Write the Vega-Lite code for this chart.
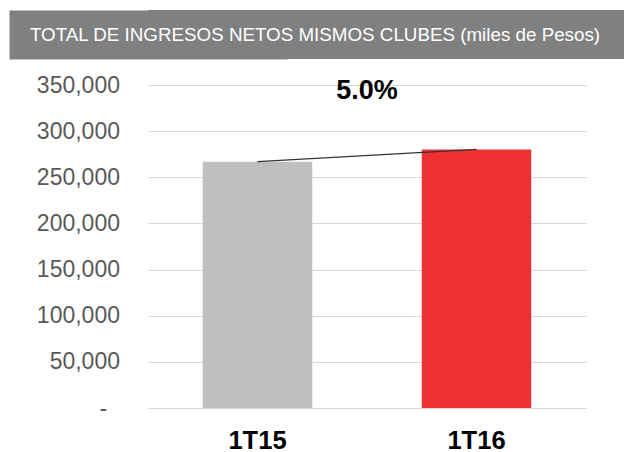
{
  "$schema": "https://vega.github.io/schema/vega-lite/v6.json",
  "padding": {"left": 9, "top": 10, "right": 0, "bottom": 0},
  "spacing": 15,
  "config": {"view": {"stroke": null}, "font": "Liberation Sans"},
  "vconcat": [
    {
      "width": 476,
      "height": 49,
      "view": {"fill": "#808080", "stroke": null},
      "data": {"values": [{"titulo": "TOTAL DE INGRESOS NETOS MISMOS CLUBES (miles de Pesos)"}]},
      "mark": {"type": "text", "color": "#FFFFFF", "fontSize": 18.8, "font": "Liberation Sans", "baseline": "middle", "align": "center", "dx": -71},
      "encoding": {
        "text": {"field": "titulo"},
        "y": {"datum": 0, "type": "quantitative",
          "scale": {"domain": [-1, 1]},
          "axis": {"title": null, "labels": false, "ticks": false, "grid": false,
            "domain": true, "domainColor": "#808080", "domainWidth": 278, "domainCap": "butt",
            "minExtent": 139, "maxExtent": 139}}
      }
    },
    {
      "width": 438,
      "height": 323,
      "data": {"values": [
        {"periodo": "1T15", "ingresos": 266900},
        {"periodo": "1T16", "ingresos": 280200}
      ]},
      "layer": [
        {
          "mark": {"type": "bar"},
          "encoding": {
            "x": {"field": "periodo", "type": "nominal", "sort": ["1T15", "1T16"],
              "scale": {"paddingInner": 0.5, "paddingOuter": 0.25},
              "axis": {"title": null, "domain": false, "ticks": false, "labelAngle": 0, "labelFontSize": 25.5, "labelFontWeight": "bold", "labelColor": "#000000", "labelPadding": 20}},
            "y": {"field": "ingresos", "type": "quantitative",
              "scale": {"domain": [0, 350000], "nice": false},
              "axis": {"title": null, "domain": false, "ticks": false, "grid": true, "gridColor": "#D9D9D9", "gridWidth": 1,
                "values": [0, 50000, 100000, 150000, 200000, 250000, 300000, 350000],
                "labelFontSize": 23, "labelColor": "#595959", "labelPadding": 28.5,
                "minExtent": 139, "maxExtent": 139,
                "labelExpr": "datum.value === 0 ? '-\u00a0\u00a0\u200b' : format(datum.value, ',')"}},
            "color": {"field": "periodo", "type": "nominal", "scale": {"domain": ["1T15", "1T16"], "range": ["#BFBFBF", "#EE3131"]}, "legend": null}
          }
        },
        {
          "mark": {"type": "line", "color": "#333333", "strokeWidth": 1.2},
          "encoding": {
            "x": {"field": "periodo", "type": "nominal", "sort": ["1T15", "1T16"]},
            "y": {"field": "ingresos", "type": "quantitative"}
          }
        },
        {
          "data": {"values": [{"crecimiento": "5.0%"}]},
          "mark": {"type": "text", "fontSize": 27, "fontWeight": "bold", "color": "#000000", "baseline": "middle"},
          "encoding": {
            "text": {"field": "crecimiento"},
            "y": {"datum": 344000, "type": "quantitative"}
          }
        }
      ]
    }
  ]
}
